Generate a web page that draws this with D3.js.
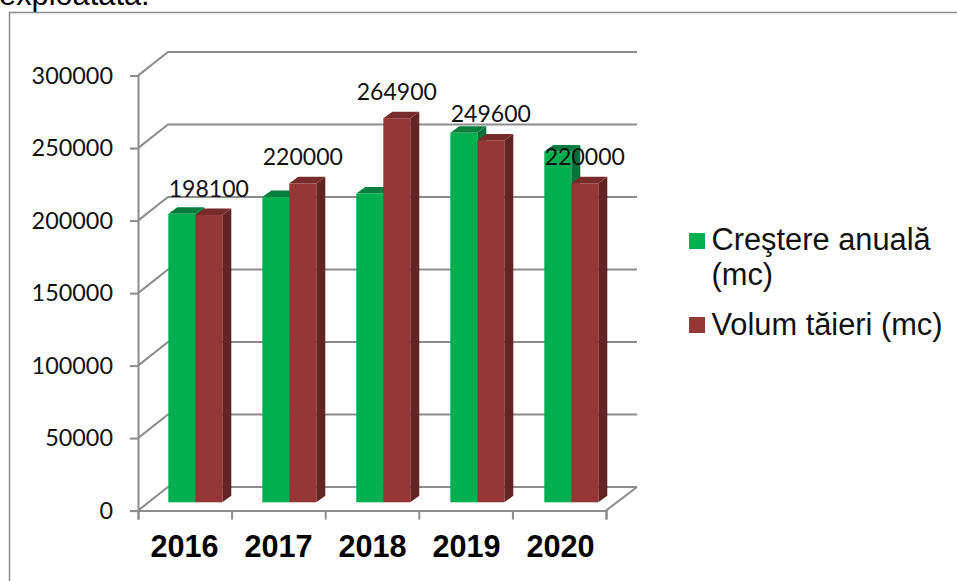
<!DOCTYPE html>
<html><head><meta charset="utf-8">
<script src="https://cdn.jsdelivr.net/npm/d3@7"></script>
<style>html,body{margin:0;padding:0;background:#fff}svg{display:block}</style>
</head><body><svg id="c" width="957" height="581"></svg>
<script>
const years = ["2016","2017","2018","2019","2020"];
const growth = [199000,210500,212900,254800,242000];
const felling = [198100,220000,264900,249600,220000];
const yTicks = [0,50000,100000,150000,200000,250000,300000];
const seriesNames = ["growth","felling"];
const cutText = "exploatată:";

const svg = d3.select("#c");
const W = {left:138,right:606,top:75.6,bottom:510.6};
const wall = {dx:30,dy:-23.6};
const barOff = {dx:30.3,dy:-8.3};
const depth = {dx:9,dy:-6.5};
const gray = "#8c8c8c";
const cols = {growth:{f:"#00b050",t:"#067f3e",s:"#04703a"},felling:{f:"#953735",t:"#772c2a",s:"#632523"}};

const y = d3.scaleLinear().domain([0,300000]).range([W.bottom,W.top]);
const x = d3.scaleBand().domain(years).range([W.left,W.left+470]);
const xs = d3.scaleBand().domain(seriesNames).range([0,54]);

// cut-off text and frame
svg.append("text").attr("x",-1).attr("y",5).attr("font-family","Liberation Sans").attr("font-size",30.8).attr("fill","#000").text(cutText);
svg.append("path").attr("d","M9.5,581V12.5H957").attr("fill","none").attr("stroke","#8a8a8a").attr("stroke-width",1.5);

// walls
const grid = svg.append("g").attr("fill","none").attr("stroke",gray).attr("stroke-width",2);
yTicks.forEach(t=>{
  const p=y(t);
  grid.append("path").attr("d",`M${W.left},${p}L${W.left+wall.dx},${p+wall.dy}H${W.right+wall.dx+1}`);
});
grid.append("path").attr("d",`M${W.right+wall.dx+1},${W.bottom+wall.dy}L${W.right},${W.bottom}`);

// axes
const yAxis = svg.append("g").attr("transform",`translate(${W.left},0)`).call(d3.axisLeft(y).tickValues(yTicks).tickSize(8).tickPadding(17).tickFormat(d3.format("d")));
const xAxis = svg.append("g").attr("transform",`translate(0,${W.bottom})`).call(
  d3.axisBottom(d3.scalePoint().domain(years.concat(["end"])).range([W.left,W.right])).tickSize(9).tickFormat(()=>""));
[yAxis,xAxis].forEach(a=>{a.selectAll("path,line").attr("stroke",gray).attr("stroke-width",2);});
yAxis.selectAll("text").attr("font-family","Lato").attr("font-size",23.4).attr("fill","#111");
svg.append("g").selectAll("text").data(years).join("text")
  .attr("x",d=>x(d)+x.bandwidth()/2-0.5).attr("y",557).attr("text-anchor","middle")
  .attr("font-family","Liberation Sans").attr("font-weight","bold").attr("font-size",30.6).attr("fill","#000").text(d=>d);

// bars
const base = y(0)+barOff.dy;
const by = v => y(v)+barOff.dy;
function drawBars(name,vals){
  const c=cols[name];
  const g=svg.append("g");
  years.forEach((yr,i)=>{
    const x0=x(yr)+barOff.dx+xs(name), w=xs.bandwidth(), t=by(vals[i]);
    g.append("path").attr("fill",c.s).attr("d",`M${x0+w},${t}l${depth.dx},${depth.dy}V${base+depth.dy}L${x0+w},${base}Z`);
    g.append("path").attr("fill",c.t).attr("d",`M${x0},${t}l${depth.dx},${depth.dy}h${w}l${-depth.dx},${-depth.dy}Z`);
    g.append("rect").attr("x",x0).attr("y",t).attr("width",w).attr("height",base-t).attr("fill",c.f);
  });
}
drawBars("growth",growth);
drawBars("felling",felling);

// data labels
svg.append("g").selectAll("text").data(felling).join("text")
  .attr("x",(d,i)=>x(years[i])+barOff.dx+xs("felling")+xs.bandwidth()/2)
  .attr("y",d=>by(d)-18.5).attr("text-anchor","middle")
  .attr("font-family","Lato").attr("font-size",23).attr("fill","#111").text(d=>d);

// legend
const lf={ "font-family":"Liberation Sans","font-size":30.8,fill:"#111"};
const lg=svg.append("g");
const lt=(tx,ty,s)=>{const e=lg.append("text").attr("x",tx).attr("y",ty).text(s);Object.entries(lf).forEach(([k,v])=>e.attr(k,v));};
lg.append("rect").attr("x",689).attr("y",233).attr("width",16).attr("height",16).attr("fill",cols.growth.f);
lg.append("rect").attr("x",689).attr("y",317).attr("width",16).attr("height",16).attr("fill",cols.felling.f);
lt(711.5,250,"Creştere anuală");
lt(711.5,285,"(mc)");
lt(711.5,335,"Volum tăieri (mc)");
</script></body></html>
